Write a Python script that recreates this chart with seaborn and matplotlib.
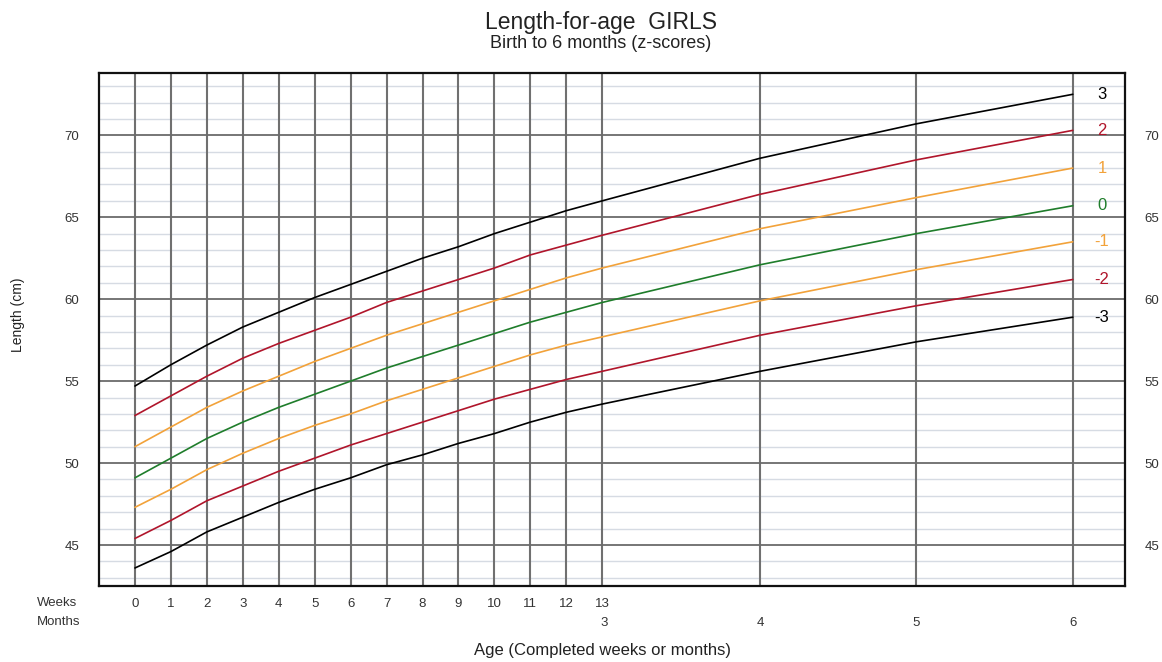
import matplotlib
matplotlib.use('Agg')
import matplotlib.pyplot as plt
import matplotlib.transforms as mtransforms
import pandas as pd
import seaborn as sns

# age points: completed weeks 0-13, then months 4-6
weeks = list(range(14))
months = [4, 5, 6]
DAYS_PER_MONTH = 30.4375

# length (cm) per z-score line, weeks 0..13 then months 4, 5, 6
sd_neg3 = [43.6, 44.6, 45.8, 46.7, 47.6, 48.4, 49.1, 49.9, 50.5, 51.2, 51.8, 52.5, 53.1, 53.6, 55.6, 57.4, 58.9]
sd_neg2 = [45.4, 46.5, 47.7, 48.6, 49.5, 50.3, 51.1, 51.8, 52.5, 53.2, 53.9, 54.5, 55.1, 55.6, 57.8, 59.6, 61.2]
sd_neg1 = [47.3, 48.4, 49.6, 50.6, 51.5, 52.3, 53.0, 53.8, 54.5, 55.2, 55.9, 56.6, 57.2, 57.7, 59.9, 61.8, 63.5]
sd_0 = [49.1, 50.3, 51.5, 52.5, 53.4, 54.2, 55.0, 55.8, 56.5, 57.2, 57.9, 58.6, 59.2, 59.8, 62.1, 64.0, 65.7]
sd_pos1 = [51.0, 52.2, 53.4, 54.4, 55.3, 56.2, 57.0, 57.8, 58.5, 59.2, 59.9, 60.6, 61.3, 61.9, 64.3, 66.2, 68.0]
sd_pos2 = [52.9, 54.1, 55.3, 56.4, 57.3, 58.1, 58.9, 59.8, 60.5, 61.2, 61.9, 62.7, 63.3, 63.9, 66.4, 68.5, 70.3]
sd_pos3 = [54.7, 56.0, 57.2, 58.3, 59.2, 60.1, 60.9, 61.7, 62.5, 63.2, 64.0, 64.7, 65.4, 66.0, 68.6, 70.7, 72.5]

z_names = ['-3', '-2', '-1', '0', '1', '2', '3']
z_values = [sd_neg3, sd_neg2, sd_neg1, sd_0, sd_pos1, sd_pos2, sd_pos3]
z_colors = ['#000000', '#b0152b', '#f2a23a', '#1f7d2b', '#f2a23a', '#b0152b', '#000000']

age_days = [w * 7 for w in weeks] + [m * DAYS_PER_MONTH for m in months]

rows = []
for name, vals in zip(z_names, z_values):
    for a, v in zip(age_days, vals):
        rows.append({'age': a, 'length': v, 'z': name})
df = pd.DataFrame(rows)

sns.set_style('white')
plt.rcParams['font.family'] = ['Liberation Sans', 'DejaVu Sans']

W, H = 1162, 662
fig = plt.figure(figsize=(W / 100, H / 100), dpi=100)
ax = fig.add_axes([99 / W, (H - 586) / H, (1125 - 99) / W, (586 - 73) / H])

# grid
grid_x = [w * 7 for w in weeks] + [m * DAYS_PER_MONTH for m in months]
for gx in grid_x:
    ax.axvline(gx, color='#707070', lw=1.5, zorder=1)
for gy in range(43, 74):
    if gy % 5 == 0:
        ax.axhline(gy, color='#6b6b6b', lw=1.3, zorder=1)
    else:
        ax.axhline(gy, color='#d6dbe3', lw=1.0, zorder=0)

palette = dict(zip(z_names, z_colors))
sns.lineplot(data=df, x='age', y='length', hue='z', palette=palette,
             legend=False, ax=ax, lw=1.2, zorder=3)

ax.set_xlim(-7, 192.8)
ax.set_ylim(42.5, 73.8)
ax.set_xlabel('')
ax.set_ylabel('')
ax.set_xticks([])
yt = [45, 50, 55, 60, 65, 70]
ax.set_yticks(yt)
ax.set_yticklabels([str(v) for v in yt])
ax.tick_params(axis='y', length=0, pad=14, labelsize=9.5, labelcolor='#333333',
               labelleft=True, labelright=True)
for s in ax.spines.values():
    s.set_color('#111111')
    s.set_linewidth(1.6)

# z-score labels at the right end of each line
for name, vals, c in zip(z_names, z_values, z_colors):
    ax.text(188.3, vals[-1], name, color=c, fontsize=12, ha='center', va='center')

# age axis labels
tr = mtransforms.blended_transform_factory(ax.transData, fig.transFigure)
for w in weeks:
    ax.text(w * 7, 1 - 604 / H, str(w), transform=tr, ha='center', va='center',
            fontsize=9.5, color='#333333')
for m in [3] + months:
    ax.text(m * DAYS_PER_MONTH, 1 - 623 / H, str(m), transform=tr, ha='center',
            va='center', fontsize=9.5, color='#333333')
fig.text(37 / W, 1 - 603 / H, 'Weeks', ha='left', va='center', fontsize=9.5, color='#333333')
fig.text(37 / W, 1 - 622 / H, 'Months', ha='left', va='center', fontsize=9.5, color='#333333')
fig.text(603 / W, 1 - 650 / H, 'Age (Completed weeks or months)', ha='center', va='center',
         fontsize=12, color='#222222')
fig.text(18 / W, 1 - 315 / H, 'Length (cm)', rotation=90, ha='center', va='center',
         fontsize=10, color='#222222')

fig.text(601 / W, 1 - 22 / H, 'Length-for-age  GIRLS', ha='center', va='center',
         fontsize=16.5, color='#222222')
fig.text(601 / W, 1 - 43 / H, 'Birth to 6 months (z-scores)', ha='center', va='center',
         fontsize=13, color='#222222')

fig.savefig('out.png', dpi=100)
